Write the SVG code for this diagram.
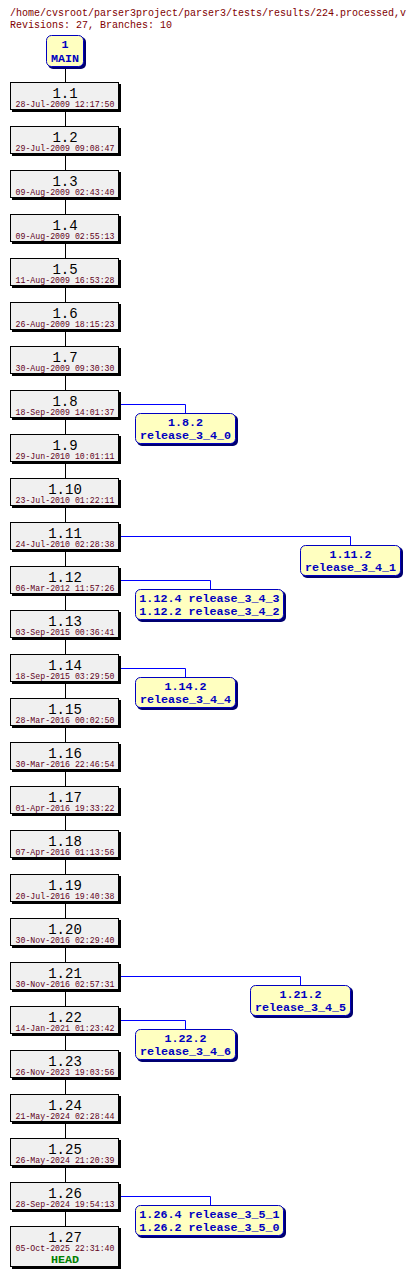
<svg xmlns="http://www.w3.org/2000/svg" width="416" height="1279" viewBox="0 0 416 1279">
<style>
.hdr{font-family:"Liberation Mono",monospace;font-size:10px;fill:#800000}
.rb{fill:#f0f0f0;stroke:#000;stroke-width:1}
.sh{fill:#000}
.rn{font-family:"Liberation Mono",monospace;font-size:14px;fill:#000;text-anchor:middle}
.dt{font-family:"Liberation Mono",monospace;font-size:8.25px;fill:#600020;text-anchor:middle}
.bb{fill:#ffffc0;stroke:#0000c0;stroke-width:1}
.bs{fill:#000070}
.bt{font-family:"Liberation Mono",monospace;font-size:11.7px;font-weight:bold;fill:#0000c0;text-anchor:middle}
.hd{font-family:"Liberation Mono",monospace;font-size:11.7px;font-weight:bold;fill:#008000;text-anchor:middle}
.cn{stroke:#000;stroke-width:1;fill:none}
.bc{stroke:#0000ff;stroke-width:1;fill:none}
</style>
<rect width="416" height="1279" fill="#ffffff"/>
<g id="header">
<text class="hdr" x="10" y="16">/home/cvsroot/parser3project/parser3/tests/results/224.processed,v</text>
<text class="hdr" x="10" y="28">Revisions: 27, Branches: 10</text>
</g>
<g id="connectors">
<path class="cn" d="M65.5 68V82M65.5 112V126M65.5 156V170M65.5 200V214M65.5 244V258M65.5 288V302M65.5 332V346M65.5 376V390M65.5 420V434M65.5 464V478M65.5 508V522M65.5 552V566M65.5 596V610M65.5 640V654M65.5 684V698M65.5 728V742M65.5 772V786M65.5 816V830M65.5 860V874M65.5 904V918M65.5 948V962M65.5 992V1006M65.5 1036V1050M65.5 1080V1094M65.5 1124V1138M65.5 1168V1182M65.5 1212V1226"/>
<path class="bc" d="M121 404.5H185.5V413"/>
<path class="bc" d="M121 536.5H350.5V545"/>
<path class="bc" d="M121 580.5H210.5V589"/>
<path class="bc" d="M121 668.5H185.5V677"/>
<path class="bc" d="M121 976.5H300.5V985"/>
<path class="bc" d="M121 1020.5H185.5V1029"/>
<path class="bc" d="M121 1196.5H210.5V1205"/>
</g>
<g id="main">
<rect class="bs" x="48" y="37" width="38" height="32" rx="5"/>
<rect class="bb" x="46.5" y="35.5" width="37" height="31" rx="5"/>
<text class="bt" x="65" y="48">1</text>
<text class="bt" x="65" y="62">MAIN</text>
</g>
<g id="r1_1"><rect class="sh" x="12" y="84" width="109" height="28"/><rect class="rb" x="10.5" y="82.5" width="108" height="27"/><text class="rn" x="65" y="98">1.1</text><text class="dt" x="65" y="107">28-Jul-2009 12:17:50</text></g>
<g id="r1_2"><rect class="sh" x="12" y="128" width="109" height="28"/><rect class="rb" x="10.5" y="126.5" width="108" height="27"/><text class="rn" x="65" y="142">1.2</text><text class="dt" x="65" y="151">29-Jul-2009 09:08:47</text></g>
<g id="r1_3"><rect class="sh" x="12" y="172" width="109" height="28"/><rect class="rb" x="10.5" y="170.5" width="108" height="27"/><text class="rn" x="65" y="186">1.3</text><text class="dt" x="65" y="195">09-Aug-2009 02:43:40</text></g>
<g id="r1_4"><rect class="sh" x="12" y="216" width="109" height="28"/><rect class="rb" x="10.5" y="214.5" width="108" height="27"/><text class="rn" x="65" y="230">1.4</text><text class="dt" x="65" y="239">09-Aug-2009 02:55:13</text></g>
<g id="r1_5"><rect class="sh" x="12" y="260" width="109" height="28"/><rect class="rb" x="10.5" y="258.5" width="108" height="27"/><text class="rn" x="65" y="274">1.5</text><text class="dt" x="65" y="283">11-Aug-2009 16:53:28</text></g>
<g id="r1_6"><rect class="sh" x="12" y="304" width="109" height="28"/><rect class="rb" x="10.5" y="302.5" width="108" height="27"/><text class="rn" x="65" y="318">1.6</text><text class="dt" x="65" y="327">26-Aug-2009 18:15:23</text></g>
<g id="r1_7"><rect class="sh" x="12" y="348" width="109" height="28"/><rect class="rb" x="10.5" y="346.5" width="108" height="27"/><text class="rn" x="65" y="362">1.7</text><text class="dt" x="65" y="371">30-Aug-2009 09:30:30</text></g>
<g id="r1_8"><rect class="sh" x="12" y="392" width="109" height="28"/><rect class="rb" x="10.5" y="390.5" width="108" height="27"/><text class="rn" x="65" y="406">1.8</text><text class="dt" x="65" y="415">18-Sep-2009 14:01:37</text></g>
<g id="r1_9"><rect class="sh" x="12" y="436" width="109" height="28"/><rect class="rb" x="10.5" y="434.5" width="108" height="27"/><text class="rn" x="65" y="450">1.9</text><text class="dt" x="65" y="459">29-Jun-2010 10:01:11</text></g>
<g id="r1_10"><rect class="sh" x="12" y="480" width="109" height="28"/><rect class="rb" x="10.5" y="478.5" width="108" height="27"/><text class="rn" x="65" y="494">1.10</text><text class="dt" x="65" y="503">23-Jul-2010 01:22:11</text></g>
<g id="r1_11"><rect class="sh" x="12" y="524" width="109" height="28"/><rect class="rb" x="10.5" y="522.5" width="108" height="27"/><text class="rn" x="65" y="538">1.11</text><text class="dt" x="65" y="547">24-Jul-2010 02:28:38</text></g>
<g id="r1_12"><rect class="sh" x="12" y="568" width="109" height="28"/><rect class="rb" x="10.5" y="566.5" width="108" height="27"/><text class="rn" x="65" y="582">1.12</text><text class="dt" x="65" y="591">06-Mar-2012 11:57:26</text></g>
<g id="r1_13"><rect class="sh" x="12" y="612" width="109" height="28"/><rect class="rb" x="10.5" y="610.5" width="108" height="27"/><text class="rn" x="65" y="626">1.13</text><text class="dt" x="65" y="635">03-Sep-2015 00:36:41</text></g>
<g id="r1_14"><rect class="sh" x="12" y="656" width="109" height="28"/><rect class="rb" x="10.5" y="654.5" width="108" height="27"/><text class="rn" x="65" y="670">1.14</text><text class="dt" x="65" y="679">18-Sep-2015 03:29:50</text></g>
<g id="r1_15"><rect class="sh" x="12" y="700" width="109" height="28"/><rect class="rb" x="10.5" y="698.5" width="108" height="27"/><text class="rn" x="65" y="714">1.15</text><text class="dt" x="65" y="723">28-Mar-2016 00:02:50</text></g>
<g id="r1_16"><rect class="sh" x="12" y="744" width="109" height="28"/><rect class="rb" x="10.5" y="742.5" width="108" height="27"/><text class="rn" x="65" y="758">1.16</text><text class="dt" x="65" y="767">30-Mar-2016 22:46:54</text></g>
<g id="r1_17"><rect class="sh" x="12" y="788" width="109" height="28"/><rect class="rb" x="10.5" y="786.5" width="108" height="27"/><text class="rn" x="65" y="802">1.17</text><text class="dt" x="65" y="811">01-Apr-2016 19:33:22</text></g>
<g id="r1_18"><rect class="sh" x="12" y="832" width="109" height="28"/><rect class="rb" x="10.5" y="830.5" width="108" height="27"/><text class="rn" x="65" y="846">1.18</text><text class="dt" x="65" y="855">07-Apr-2016 01:13:56</text></g>
<g id="r1_19"><rect class="sh" x="12" y="876" width="109" height="28"/><rect class="rb" x="10.5" y="874.5" width="108" height="27"/><text class="rn" x="65" y="890">1.19</text><text class="dt" x="65" y="899">20-Jul-2016 19:40:38</text></g>
<g id="r1_20"><rect class="sh" x="12" y="920" width="109" height="28"/><rect class="rb" x="10.5" y="918.5" width="108" height="27"/><text class="rn" x="65" y="934">1.20</text><text class="dt" x="65" y="943">30-Nov-2016 02:29:40</text></g>
<g id="r1_21"><rect class="sh" x="12" y="964" width="109" height="28"/><rect class="rb" x="10.5" y="962.5" width="108" height="27"/><text class="rn" x="65" y="978">1.21</text><text class="dt" x="65" y="987">30-Nov-2016 02:57:31</text></g>
<g id="r1_22"><rect class="sh" x="12" y="1008" width="109" height="28"/><rect class="rb" x="10.5" y="1006.5" width="108" height="27"/><text class="rn" x="65" y="1022">1.22</text><text class="dt" x="65" y="1031">14-Jan-2021 01:23:42</text></g>
<g id="r1_23"><rect class="sh" x="12" y="1052" width="109" height="28"/><rect class="rb" x="10.5" y="1050.5" width="108" height="27"/><text class="rn" x="65" y="1066">1.23</text><text class="dt" x="65" y="1075">26-Nov-2023 19:03:56</text></g>
<g id="r1_24"><rect class="sh" x="12" y="1096" width="109" height="28"/><rect class="rb" x="10.5" y="1094.5" width="108" height="27"/><text class="rn" x="65" y="1110">1.24</text><text class="dt" x="65" y="1119">21-May-2024 02:28:44</text></g>
<g id="r1_25"><rect class="sh" x="12" y="1140" width="109" height="28"/><rect class="rb" x="10.5" y="1138.5" width="108" height="27"/><text class="rn" x="65" y="1154">1.25</text><text class="dt" x="65" y="1163">26-May-2024 21:20:39</text></g>
<g id="r1_26"><rect class="sh" x="12" y="1184" width="109" height="28"/><rect class="rb" x="10.5" y="1182.5" width="108" height="27"/><text class="rn" x="65" y="1198">1.26</text><text class="dt" x="65" y="1207">28-Sep-2024 19:54:13</text></g>
<g id="r1_27"><rect class="sh" x="12" y="1228" width="109" height="41"/><rect class="rb" x="10.5" y="1226.5" width="108" height="40"/><text class="rn" x="65" y="1242">1.27</text><text class="dt" x="65" y="1251">05-Oct-2025 22:31:40</text><text class="hd" x="65" y="1263">HEAD</text></g>
<g id="b1_8_2"><rect class="bs" x="137" y="415" width="101" height="31" rx="5"/><rect class="bb" x="135.5" y="413.5" width="100" height="30" rx="5"/><text class="bt" x="185.5" y="426">1.8.2</text><text class="bt" x="185.5" y="438.5">release_3_4_0</text></g>
<g id="b1_11_2"><rect class="bs" x="302" y="547" width="101" height="31" rx="5"/><rect class="bb" x="300.5" y="545.5" width="100" height="30" rx="5"/><text class="bt" x="350.5" y="558">1.11.2</text><text class="bt" x="350.5" y="570.5">release_3_4_1</text></g>
<g id="b1_12"><rect class="bs" x="137" y="591" width="149" height="31" rx="5"/><rect class="bb" x="135.5" y="589.5" width="148" height="30" rx="5"/><text class="bt" x="209.5" y="602">1.12.4 release_3_4_3</text><text class="bt" x="209.5" y="614.5">1.12.2 release_3_4_2</text></g>
<g id="b1_14_2"><rect class="bs" x="137" y="679" width="101" height="31" rx="5"/><rect class="bb" x="135.5" y="677.5" width="100" height="30" rx="5"/><text class="bt" x="185.5" y="690">1.14.2</text><text class="bt" x="185.5" y="702.5">release_3_4_4</text></g>
<g id="b1_21_2"><rect class="bs" x="252" y="987" width="101" height="31" rx="5"/><rect class="bb" x="250.5" y="985.5" width="100" height="30" rx="5"/><text class="bt" x="300.5" y="998">1.21.2</text><text class="bt" x="300.5" y="1010.5">release_3_4_5</text></g>
<g id="b1_22_2"><rect class="bs" x="137" y="1031" width="101" height="31" rx="5"/><rect class="bb" x="135.5" y="1029.5" width="100" height="30" rx="5"/><text class="bt" x="185.5" y="1042">1.22.2</text><text class="bt" x="185.5" y="1054.5">release_3_4_6</text></g>
<g id="b1_26"><rect class="bs" x="137" y="1207" width="149" height="31" rx="5"/><rect class="bb" x="135.5" y="1205.5" width="148" height="30" rx="5"/><text class="bt" x="209.5" y="1218">1.26.4 release_3_5_1</text><text class="bt" x="209.5" y="1230.5">1.26.2 release_3_5_0</text></g>
</svg>
